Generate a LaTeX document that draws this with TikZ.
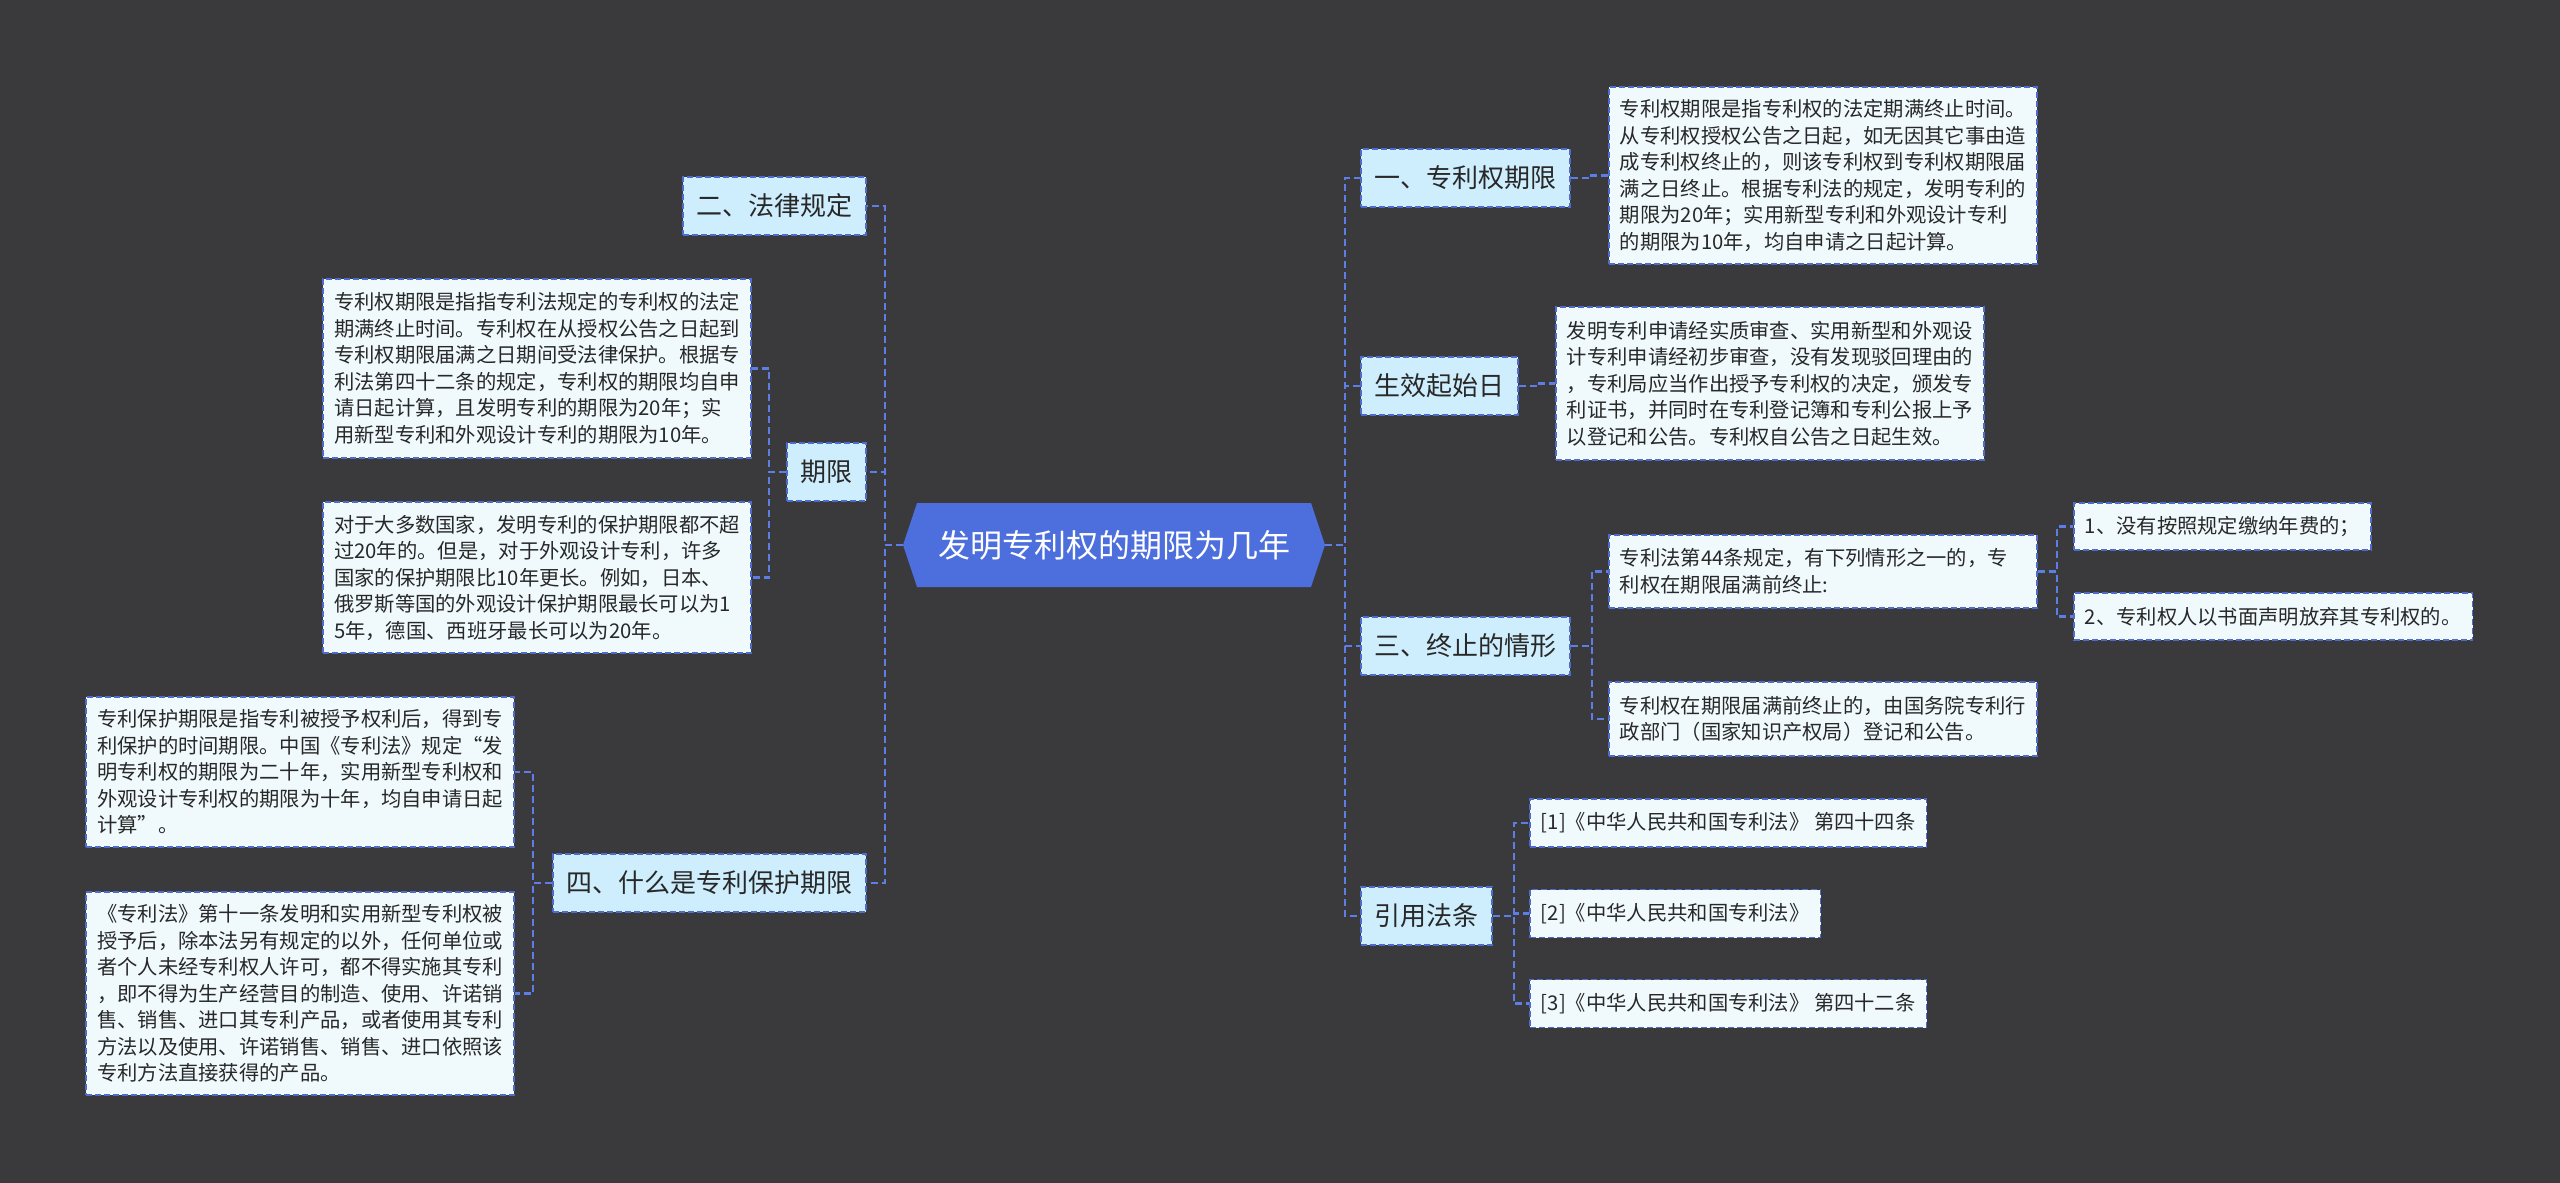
\documentclass[tikz,border=0pt]{standalone}
\usepackage{fontspec}
\setmainfont{Noto Sans CJK SC}
\definecolor{bg}{RGB}{58,57,60}
\definecolor{cblue}{RGB}{77,111,222}
\definecolor{bord}{RGB}{78,108,205}
\definecolor{lcol}{RGB}{92,126,230}
\definecolor{lfill}{RGB}{206,238,253}
\definecolor{dfill}{RGB}{240,250,253}
\definecolor{tcol}{RGB}{40,40,40}
\tikzset{
  lvl/.style={draw=bord, fill=lfill, line width=1.8pt, dash pattern=on 6pt off 3pt,
    font=\fontsize{26}{30}\selectfont, text=tcol, inner xsep=13.5pt, inner ysep=0pt, minimum height=58pt},
  det/.style={draw=bord, fill=dfill, line width=1.8pt, dash pattern=on 6pt off 3pt,
    font=\fontsize{20.3}{26.5}\selectfont, text=tcol, align=left, inner xsep=11pt, inner ysep=0pt},
  wide/.style={text width=406pt},
  conn/.style={draw=lcol, line width=2.4pt, dash pattern=on 7pt off 4pt},
  cnode/.style={font=\fontsize{32}{36}\selectfont, text=white, minimum width=422pt, minimum height=84pt, inner sep=0pt},
}
\begin{document}
\begin{tikzpicture}[x=1pt,y=-1pt]
\fill[bg] (0,0) rectangle (2560,1183);
\useasboundingbox (0,0) rectangle (2560,1183);

% central
\fill[cblue] (903,545) -- (917,503) -- (1311,503) -- (1325,545) -- (1311,587) -- (917,587) -- cycle;
\node[cnode] (c) at (1114,545) {发明专利权的期限为几年};

% right level 1
\node[lvl, anchor=west] (n1) at (1360,178) {一、专利权期限};
\node[lvl, anchor=west] (ns) at (1360,386) {生效起始日};
\node[lvl, anchor=west] (n3) at (1360,646) {三、终止的情形};
\node[lvl, anchor=west] (n5) at (1360,916) {引用法条};

% left level 1
\node[lvl, anchor=east] (n2) at (867,206) {二、法律规定};
\node[lvl, anchor=east] (nq) at (867,472) {期限};
\node[lvl, anchor=east] (n4) at (867,883) {四、什么是专利保护期限};

% right details
\node[det, wide, anchor=west, minimum height=177pt] (d1) at (1608,175.5) {专利权期限是指专利权的法定期满终止时间。\\从专利权授权公告之日起，如无因其它事由造\\成专利权终止的，则该专利权到专利权期限届\\满之日终止。根据专利法的规定，发明专利的\\期限为20年；实用新型专利和外观设计专利\\的期限为10年，均自申请之日起计算。};
\node[det, wide, anchor=west, minimum height=153pt] (ds) at (1555,383.5) {发明专利申请经实质审查、实用新型和外观设\\计专利申请经初步审查，没有发现驳回理由的\\，专利局应当作出授予专利权的决定，颁发专\\利证书，并同时在专利登记簿和专利公报上予\\以登记和公告。专利权自公告之日起生效。};
\node[det, wide, anchor=west, minimum height=73pt] (ta) at (1608,571.5) {专利法第44条规定，有下列情形之一的，专\\利权在期限届满前终止:};
\node[det, wide, anchor=west, minimum height=74pt] (tb) at (1608,719) {专利权在期限届满前终止的，由国务院专利行\\政部门（国家知识产权局）登记和公告。};
\node[det, anchor=west, minimum height=47pt] (t1) at (2073,526.5) {1、没有按照规定缴纳年费的；};
\node[det, anchor=west, minimum height=47pt] (t2) at (2073,616.5) {2、专利权人以书面声明放弃其专利权的。};
\node[det, anchor=west, minimum height=48pt] (r1) at (1529,823) {[1]《中华人民共和国专利法》 第四十四条};
\node[det, anchor=west, minimum height=48pt] (r2) at (1529,913.5) {[2]《中华人民共和国专利法》};
\node[det, anchor=west, minimum height=48pt] (r3) at (1529,1003.5) {[3]《中华人民共和国专利法》 第四十二条};

% left details
\node[det, wide, anchor=east, minimum height=179pt] (qa) at (752,368.5) {专利权期限是指指专利法规定的专利权的法定\\期满终止时间。专利权在从授权公告之日起到\\专利权期限届满之日期间受法律保护。根据专\\利法第四十二条的规定，专利权的期限均自申\\请日起计算，且发明专利的期限为20年；实\\用新型专利和外观设计专利的期限为10年。};
\node[det, wide, anchor=east, minimum height=151pt] (qb) at (752,577.5) {对于大多数国家，发明专利的保护期限都不超\\过20年的。但是，对于外观设计专利，许多\\国家的保护期限比10年更长。例如，日本、\\俄罗斯等国的外观设计保护期限最长可以为1\\5年，德国、西班牙最长可以为20年。};
\node[det, wide, anchor=east, minimum height=150pt] (fa) at (515,772) {专利保护期限是指专利被授予权利后，得到专\\利保护的时间期限。中国《专利法》规定“发\\明专利权的期限为二十年，实用新型专利权和\\外观设计专利权的期限为十年，均自申请日起\\计算”。};
\node[det, wide, anchor=east, minimum height=203pt] (fb) at (515,993.5) {《专利法》第十一条发明和实用新型专利权被\\授予后，除本法另有规定的以外，任何单位或\\者个人未经专利权人许可，都不得实施其专利\\，即不得为生产经营目的制造、使用、许诺销\\售、销售、进口其专利产品，或者使用其专利\\方法以及使用、许诺销售、销售、进口依照该\\专利方法直接获得的产品。};

% connectors
\foreach \n in {n1,ns,n3,n5}
  \draw[conn] (c.east) -- ++(20,0) |- (\n.west);
\foreach \n in {n2,nq,n4}
  \draw[conn] (c.west) -- ++(-18,0) |- (\n.east);
\draw[conn] (n1.east) -- ++(20,0) |- (d1.west);
\draw[conn] (ns.east) -- ++(20,0) |- (ds.west);
\foreach \n in {ta,tb}
  \draw[conn] (n3.east) -- ++(21,0) |- (\n.west);
\foreach \n in {t1,t2}
  \draw[conn] (ta.east) -- ++(19,0) |- (\n.west);
\foreach \n in {r1,r2,r3}
  \draw[conn] (n5.east) -- ++(21,0) |- (\n.west);
\foreach \n in {qa,qb}
  \draw[conn] (nq.west) -- ++(-17,0) |- (\n.east);
\foreach \n in {fa,fb}
  \draw[conn] (n4.west) -- ++(-19,0) |- (\n.east);
\end{tikzpicture}
\end{document}
